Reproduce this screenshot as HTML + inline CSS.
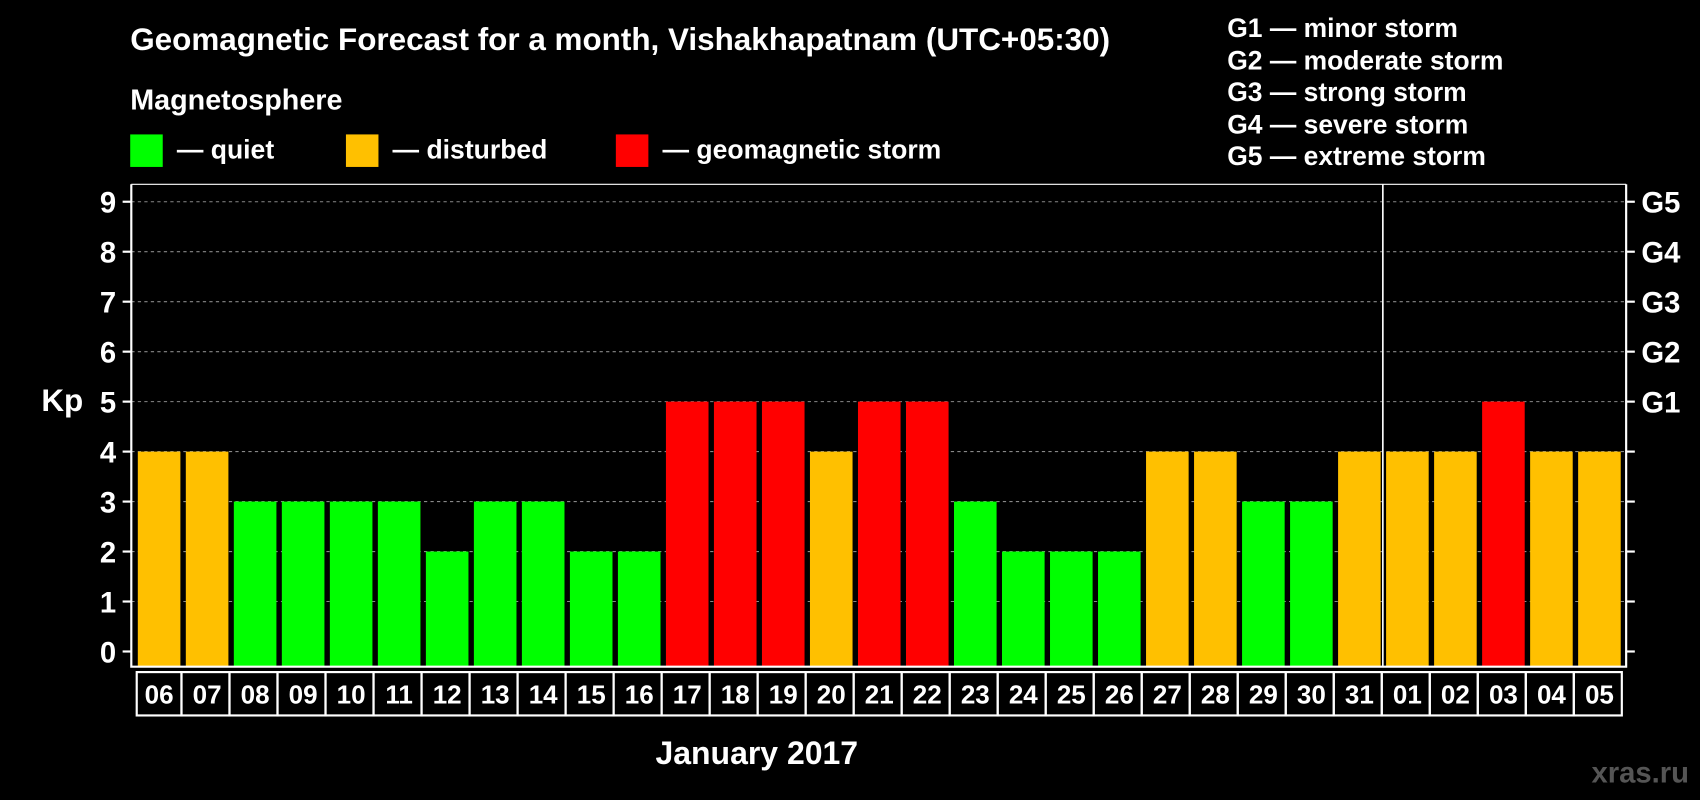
<!DOCTYPE html>
<html><head><meta charset="utf-8"><style>
html,body{margin:0;padding:0;background:#000;}
svg{display:block;font-family:"Liberation Sans",Arial,sans-serif;font-weight:bold;}
</style></head><body>
<svg id="chart" width="1700" height="800" viewBox="0 0 1568 738" xmlns="http://www.w3.org/2000/svg">
<rect width="1568" height="738" fill="#000"/>
<text x="120" y="46" fill="#fff" font-size="29">Geomagnetic Forecast for a month, Vishakhapatnam (UTC+05:30)</text>
<text x="120" y="101" fill="#fff" font-size="26.5">Magnetosphere</text>
<g>
<rect x="120" y="124" width="30" height="30" fill="#00ff00"/>
<text x="163" y="146" fill="#fff" font-size="24.5">— quiet</text>
<rect x="319" y="124" width="30" height="30" fill="#ffc000"/>
<text x="362" y="146" fill="#fff" font-size="24.5">— disturbed</text>
<rect x="568" y="124" width="30" height="30" fill="#ff0000"/>
<text x="611" y="146" fill="#fff" font-size="24.5">— geomagnetic storm</text>
</g>
<g fill="#fff" font-size="24.4">
<text x="1132" y="34">G1 — minor storm</text>
<text x="1132" y="64">G2 — moderate storm</text>
<text x="1132" y="93">G3 — strong storm</text>
<text x="1132" y="123">G4 — severe storm</text>
<text x="1132" y="152">G5 — extreme storm</text>
</g>
<text x="38" y="379" fill="#fff" font-size="29">Kp</text>
<text x="698" y="705" fill="#fff" font-size="29.5" text-anchor="middle">January 2017</text>
<text x="1558" y="722" fill="#555" font-size="27" text-anchor="end">xras.ru</text>
<g id="plot"></g>
</svg>
<script>
const categories=["06","07","08","09","10","11","12","13","14","15","16","17","18","19","20","21","22","23","24","25","26","27","28","29","30","31","01","02","03","04","05"];
const kpValues=[4,4,3,3,3,3,2,3,3,2,2,5,5,5,4,5,5,3,2,2,2,4,4,3,3,4,4,4,5,4,4];
const yTicks=[0,1,2,3,4,5,6,7,8,9];
const gLabels=["","","","","","G1","G2","G3","G4","G5"];
const NS="http://www.w3.org/2000/svg";
const plot=document.getElementById("plot");
const L=121,R=1500,T=170,B=615,Y0=601,UNIT=46.1;
const step=(R-L-6)/categories.length;
function yS(v){return Y0-v*UNIT;}
function xS(i){return L+6+i*step;}
function mk(tag,attrs){const e=document.createElementNS(NS,tag);for(const k in attrs)e.setAttribute(k,attrs[k]);plot.appendChild(e);return e;}
function color(v){return v>=5?"#ff0000":(v>=4?"#ffc000":"#00ff00");}
yTicks.forEach((t,i)=>{
  if(t>0){const g=mk("line",{x1:L,x2:R,y1:yS(t),y2:yS(t),stroke:"#888","stroke-dasharray":"3,3","stroke-width":1});
  
  }
  const a=mk("line",{x1:L-8,x2:L,y1:yS(t),y2:yS(t),stroke:"#fff","stroke-width":2});
  
  
  const b=mk("line",{x1:R,x2:R+8,y1:yS(t),y2:yS(t),stroke:"#fff","stroke-width":2});
  
  
  const lt=mk("text",{x:L-14,y:yS(t)+10,fill:"#fff","font-size":27,"text-anchor":"end"});
  lt.textContent=t;
  
  
  if(gLabels[i]){const gt=mk("text",{x:R+14,y:yS(t)+10,fill:"#fff","font-size":27});
  gt.textContent=gLabels[i];
  
  }
});
kpValues.forEach((v,i)=>{
  const r=mk("rect",{x:xS(i),y:yS(v),width:step-5,height:B-yS(v),fill:color(v)});
  
  
  const bx=mk("rect",{x:L+2+i*step+(i==0?3:0),y:620,width:step-(i==0?3:0),height:40,fill:"none",stroke:"#fff","stroke-width":2});
  
  
  const lt=mk("text",{x:xS(i)+(step-5)/2,y:649,fill:"#fff","font-size":24,"text-anchor":"middle"});
  lt.textContent=categories[i];
  
  
});
const sep=mk("line",{x1:xS(26)-3,x2:xS(26)-3,y1:T,y2:B,stroke:"#fff","stroke-width":1.5});


const frame=mk("polyline",{points:`${L},${T} ${L},${B} ${R},${B} ${R},${T}`,fill:"none",stroke:"#fff","stroke-width":2});


const topBorder=mk("line",{x1:L,x2:R,y1:T,y2:T,stroke:"#fff","stroke-width":1});


</script>
</body></html>
